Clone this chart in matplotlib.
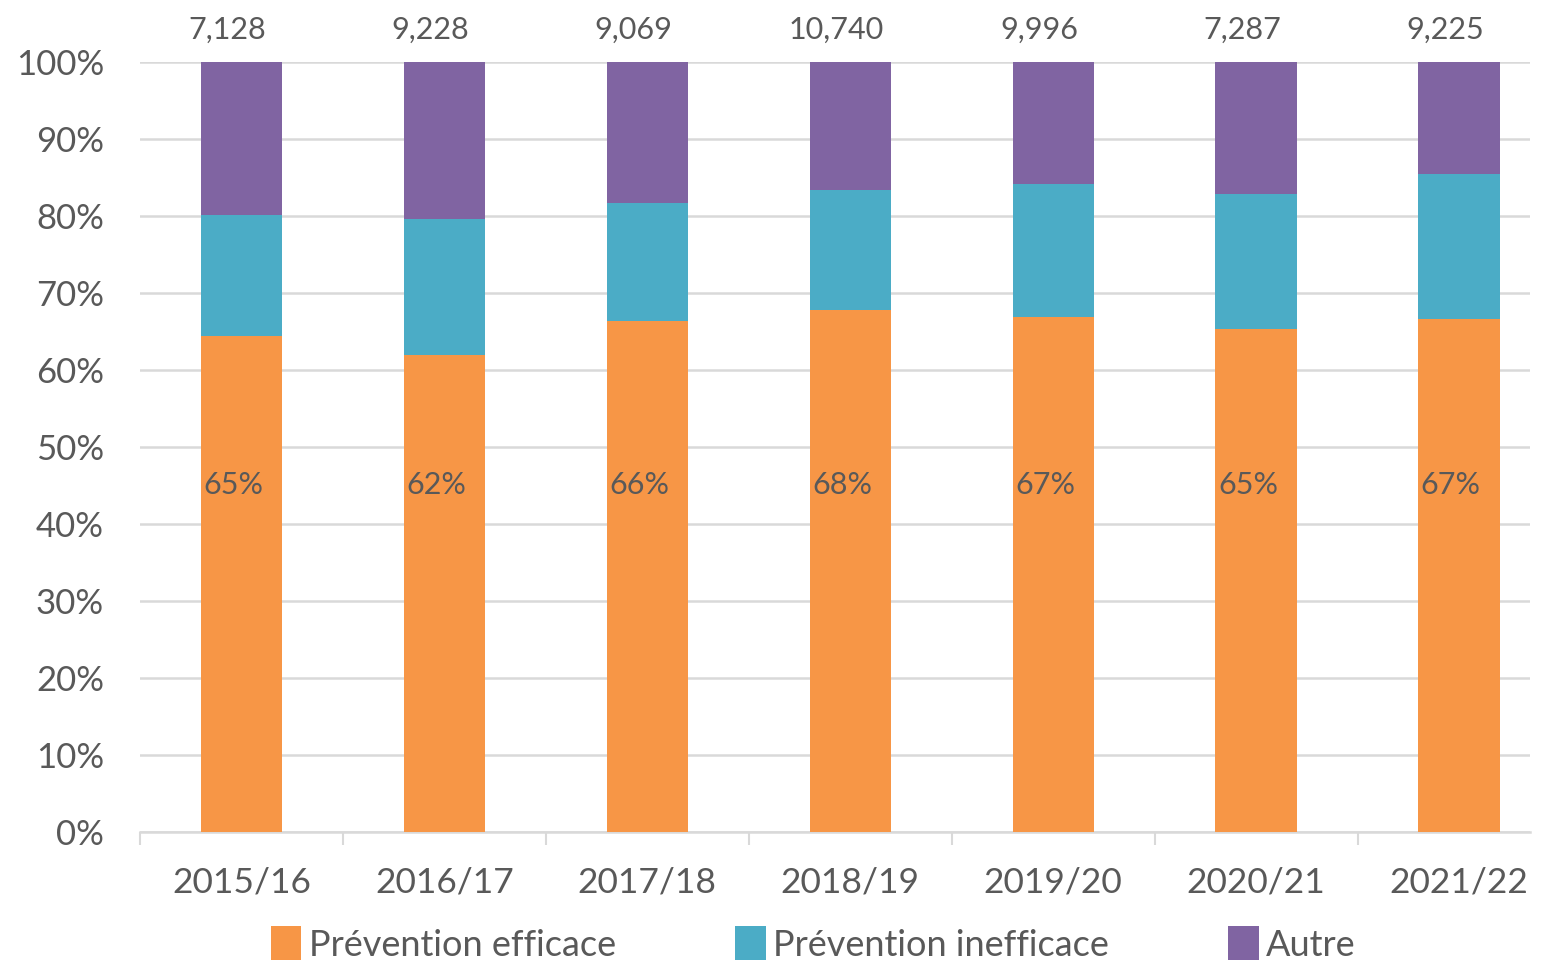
import matplotlib
matplotlib.use("Agg")
import matplotlib.pyplot as plt
from matplotlib.patches import Patch
import numpy as np

plt.rcParams['font.family'] = ['Lato', 'DejaVu Sans']

categories = ["2015/16", "2016/17", "2017/18", "2018/19", "2019/20", "2020/21", "2021/22"]
efficace = [64.4, 61.9, 66.4, 67.8, 66.9, 65.3, 66.6]
inefficace = [15.7, 17.7, 15.3, 15.6, 17.3, 17.6, 18.9]
autre = [100 - a - b for a, b in zip(efficace, inefficace)]
eff_labels = ["65%", "62%", "66%", "68%", "67%", "65%", "67%"]
totals = ["7,128", "9,228", "9,069", "10,740", "9,996", "7,287", "9,225"]
series_names = ["Prévention efficace", "Prévention inefficace", "Autre"]

c_orange = "#F79646"
c_teal = "#4BACC6"
c_purple = "#8064A2"
txt = "#595959"
grid = "#D9D9D9"

fig = plt.figure(figsize=(15.45, 9.61), dpi=100)
ax = fig.add_axes([140/1545, 1-832/961, (1530-140)/1545, (832-62)/961])

x = np.arange(len(categories))
w = 0.4
eff = np.array(efficace) / 100
ine = np.array(inefficace) / 100
aut = np.array(autre) / 100
ax.bar(x, eff, w, color=c_orange, zorder=3)
ax.bar(x, ine, w, bottom=eff, color=c_teal, zorder=3)
ax.bar(x, aut, w, bottom=eff + ine, color=c_purple, zorder=3)

for xi, lab in zip(x, eff_labels):
    ax.text(xi - 0.04, 0.45, lab, ha='center', va='center', fontsize=22, color=txt, zorder=4)
for xi, lab in zip(x, totals):
    ax.text(xi - 0.07, 1.042, lab, ha='center', va='center', fontsize=22, color=txt, clip_on=False)

ax.set_xlim(-0.5, 6.35)
ax.set_ylim(0, 1)
ax.set_yticks(np.arange(0, 1.01, 0.1))
ax.set_yticklabels([f"{int(round(v*100))}%" for v in np.arange(0, 1.01, 0.1)])
ax.yaxis.grid(True, color=grid, linewidth=1.8, zorder=0)
ax.tick_params(axis='y', length=0, pad=26, labelsize=25, labelcolor=txt)

ax.set_xticks(x)
ax.set_xticklabels(categories)
ax.tick_params(axis='x', which='major', length=0, pad=25, labelsize=25.5, labelcolor=txt)
ax.set_xticks(np.arange(-0.5, 6.0, 1.0), minor=True)
ax.tick_params(axis='x', which='minor', length=9, width=1.5, color=grid, direction='out')

for s in ['top', 'right', 'left']:
    ax.spines[s].set_visible(False)
ax.spines['bottom'].set_color(grid)
ax.spines['bottom'].set_linewidth(1.8)

handles = [Patch(facecolor=c_orange), Patch(facecolor=c_teal), Patch(facecolor=c_purple)]
leg = fig.legend(handles, series_names, loc='center', bbox_to_anchor=(813/1545, 1-944/961),
                 ncol=3, frameon=False, fontsize=26, handlelength=0.85, handleheight=1.05,
                 handletextpad=0.2, columnspacing=3.3, labelcolor=txt)

fig.savefig("out.png", dpi=100)
